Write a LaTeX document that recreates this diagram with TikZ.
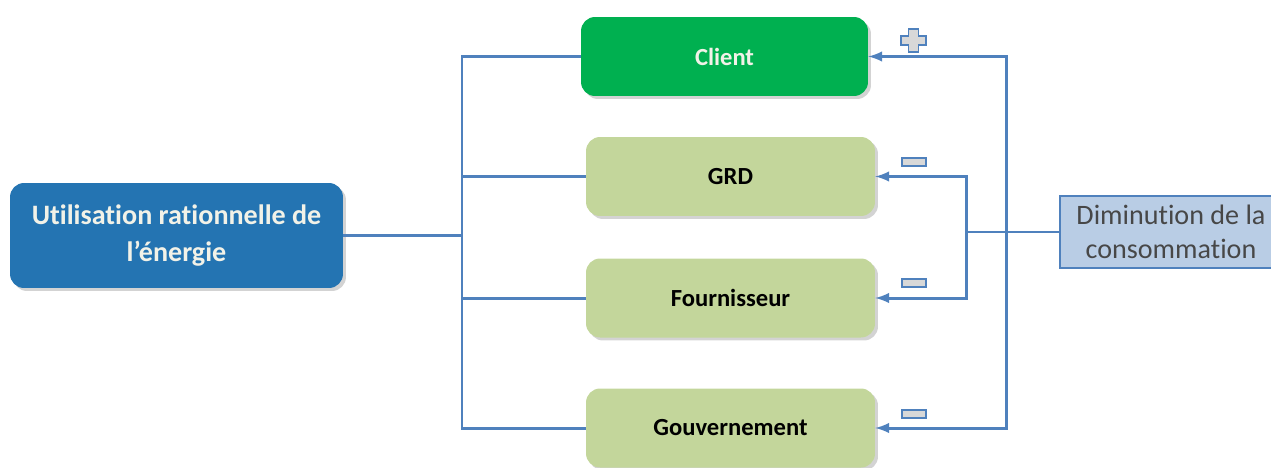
\documentclass[tikz,border=0pt]{standalone}
\usepackage{fontspec}
\setmainfont{Carlito}[Ligatures={NoRequired,NoCommon,NoContextual}, Contextuals=NoAlternate]
\usetikzlibrary{shadows}
\definecolor{utilblue}{RGB}{36,116,178}
\definecolor{clientgreen}{RGB}{0,176,80}
\definecolor{leafgreen}{RGB}{195,214,155}
\definecolor{dimblue}{RGB}{185,205,229}
\definecolor{linkblue}{RGB}{79,129,189}
\definecolor{signgray}{RGB}{216,216,216}
\definecolor{paletext}{RGB}{242,242,232}
\tikzset{
  box/.style={rectangle, rounded corners=0.28cm, inner sep=0pt, align=center,
    drop shadow={opacity=0.35, shadow xshift=0.06cm, shadow yshift=-0.06cm}},
  actor/.style={box, fill=leafgreen, minimum width=5.78cm, minimum height=1.58cm,
    font=\fontsize{14}{17}\selectfont\bfseries},
  link/.style={draw=linkblue, line width=1.7pt},
  sign/.style={draw=linkblue, fill=signgray, line width=1pt},
}

\begin{document}
\begin{tikzpicture}[x=0.02cm, y=-0.02cm]
    \useasboundingbox (0,0) rectangle (1271,467);
    % boxes
    \node[box, fill=utilblue, text=paletext, minimum width=6.66cm, minimum height=2.1cm,
      font=\fontsize{16}{21}\selectfont\bfseries] (util) at (176.5,235.5)
      {Utilisat\kern0pt ion rat\kern0pt ionnelle de\\l’énergie};
    \node[actor, fill=clientgreen, text=paletext, minimum width=5.74cm] (client) at (724.5,56.5) {Client};
    \node[actor] (grd) at (730.5,176.5) {GRD};
    \node[actor] (four) at (730.5,298) {Fournisseur};
    \node[actor] (gouv) at (730.5,428) {Gouvernement};
    \node[rectangle, fill=dimblue, draw=linkblue, line width=1pt, inner sep=0pt, align=center,
      minimum width=4.44cm, minimum height=1.44cm, text=black!72,
      font=\fontsize{16}{19.3}\selectfont] (dim) at (1171,232)
      {Diminut\kern0pt ion de la\\consommat\kern0pt ion};
    % junctions
    \coordinate (trunk) at (462,235.5);
    \coordinate (ja) at (966,232);
    \coordinate (jb) at (1006,232);
    % left tree
    \draw[link] (util.east) -- (trunk);
    \draw[link] (trunk) |- (client.west);
    \draw[link] (trunk) |- (grd.west);
    \draw[link] (trunk) |- (four.west);
    \draw[link] (trunk) |- (gouv.west);
    % right tree
    \draw[link] (dim.west) -- (ja);
    \draw[link, -latex] (ja) |- (grd.east);
    \draw[link, -latex] (ja) |- (four.east);
    \draw[link, -latex] (jb) |- (client.east);
    \draw[link, -latex] (jb) |- (gouv.east);
    % signs
    \draw[sign] (908.5,29) -- (918.5,29) -- (918.5,36) -- (926,36) -- (926,45) -- (918.5,45)
      -- (918.5,52) -- (908.5,52) -- (908.5,45) -- (901,45) -- (901,36) -- (908.5,36) -- cycle;
    \foreach \y in {158,279,410}
      \draw[sign] (902,\y) rectangle ++(24,8);
\end{tikzpicture}
\end{document}
